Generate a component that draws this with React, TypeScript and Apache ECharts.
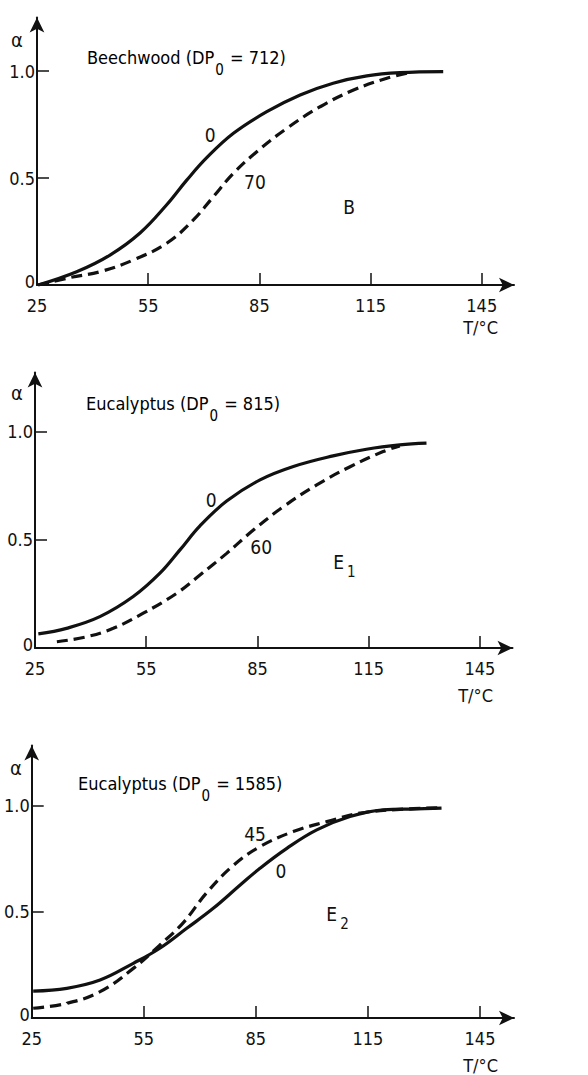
import React, { useEffect, useRef } from "react";
import * as echarts from "echarts";

// ---------- data ----------
// Panel B: Beechwood (DP0 = 712)
const B_0_T = [25.3, 35.7, 44.7, 52.8, 60, 65.4, 70.8, 78, 87, 96, 104.9, 114, 122.9, 134.6];
const B_0_A = [0, 0.062, 0.14, 0.243, 0.375, 0.49, 0.595, 0.709, 0.81, 0.888, 0.943, 0.977, 0.992, 0.997];
const B_70_T = [25.3, 34, 42, 51, 60, 67.2, 72.6, 78, 84.3, 92.4, 101.4, 110.4, 119.4, 125];
const B_70_A = [0, 0.035, 0.062, 0.117, 0.195, 0.304, 0.413, 0.522, 0.623, 0.732, 0.833, 0.911, 0.966, 0.99];

// Panel E1: Eucalyptus (DP0 = 815)
const E1_0_T = [25.9, 33.5, 42.5, 51.5, 58.7, 64.1, 69.5, 76.7, 85.7, 94.7, 105.4, 114.4, 123.4, 130.6];
const E1_0_A = [0.065, 0.091, 0.145, 0.238, 0.346, 0.454, 0.565, 0.68, 0.778, 0.84, 0.889, 0.92, 0.94, 0.948];
const E1_60_T = [30.9, 38.9, 46.1, 54.2, 63.2, 69.5, 76.7, 83.9, 92, 101, 110, 118.9, 123.4];
const E1_60_A = [0.029, 0.052, 0.091, 0.161, 0.253, 0.338, 0.438, 0.546, 0.654, 0.755, 0.839, 0.909, 0.935];

// Panel E2: Eucalyptus (DP0 = 1585)
const E2_0_T = [25.4, 34.4, 43.3, 52.2, 59.3, 66.5, 73.6, 80.8, 86.1, 93.3, 101.3, 110.2, 119.1, 128, 134.7];
const E2_0_A = [0.127, 0.14, 0.179, 0.258, 0.329, 0.423, 0.517, 0.627, 0.706, 0.8, 0.887, 0.95, 0.981, 0.986, 0.99];
const E2_45_T = [25.4, 34.4, 43.3, 52.2, 59.3, 65.6, 71.8, 79, 86.1, 95, 104, 112.9, 123.6, 134.7];
const E2_45_A = [0.046, 0.069, 0.124, 0.234, 0.344, 0.45, 0.59, 0.72, 0.808, 0.879, 0.926, 0.966, 0.984, 0.992];

// axis ticks
const X_TICKS = [25, 55, 85, 115, 145];
const Y_TICKS = [0, 0.5, 1];

// titles
const TITLE_MAIN = ["Beechwood (DP", "Eucalyptus (DP", "Eucalyptus (DP"];
const TITLE_SUB = ["0", "0", "0"];
const TITLE_REST = [" = 712)", " = 815)", " = 1585)"];

// curve annotations (text, T, alpha)
const NOTE_1_TEXT = ["0", "70", "{m|B}"];
const NOTE_1_T = [71.7, 83.8, 109.2];
const NOTE_1_A = [0.7, 0.48, 0.364];
const NOTE_2_TEXT = ["0", "60", "{m|E}{s|1}"];
const NOTE_2_T = [72.5, 86, 108.6];
const NOTE_2_A = [0.685, 0.468, 0.398];
const NOTE_3_TEXT = ["45", "0", "{m|E}{s|2}"];
const NOTE_3_T = [84.8, 91.7, 107];
const NOTE_3_A = [0.87, 0.693, 0.49];

// ---------- layout ----------
const FONT = '"DejaVu Sans Condensed", "Liberation Sans Narrow", "DejaVu Sans", sans-serif';
const INK = "#111";
const GRIDS = [
  { left: 37, top: 17.5, width: 477, height: 267.5 },
  { left: 35, top: 372.5, width: 477.5, height: 275.5 },
  { left: 31.7, top: 745.5, width: 482.3, height: 272.5 },
];
const X_MAX = [153.7, 153.8, 154.1];
const Y_MAX = [1.25, 1.275, 1.285];
const TITLE_POS = [
  [87, 57],
  [86, 403],
  [78, 783],
];
const ALPHA_POS = [
  [17, 40],
  [17, 393],
  [16, 768],
];
const UNIT_POS = [
  [498, 327],
  [493, 695],
  [498, 1065],
];

const pairs = (t: number[], a: number[]) => t.map((v, i) => [v, a[i]]);

const titleRich = {
  m: { fontSize: 18, fontFamily: FONT, color: INK, lineHeight: 20 },
  s: { fontSize: 15, fontFamily: FONT, color: INK, lineHeight: 15, padding: [26, 1, 0, 1] },
};
const noteRich = {
  m: { fontSize: 19, fontFamily: FONT, color: INK, lineHeight: 20 },
  s: { fontSize: 15, fontFamily: FONT, color: INK, lineHeight: 15, padding: [20, 1, 0, 3] },
};

export default function App() {
  const ref = useRef<HTMLDivElement>(null);
  useEffect(() => {
    if (!ref.current) return;
    const chart = echarts.init(ref.current, undefined, { renderer: "svg" });

    const curves = [
      [pairs(B_0_T, B_0_A), pairs(B_70_T, B_70_A)],
      [pairs(E1_0_T, E1_0_A), pairs(E1_60_T, E1_60_A)],
      [pairs(E2_0_T, E2_0_A), pairs(E2_45_T, E2_45_A)],
    ];
    const notes = [
      [NOTE_1_TEXT, NOTE_1_T, NOTE_1_A],
      [NOTE_2_TEXT, NOTE_2_T, NOTE_2_A],
      [NOTE_3_TEXT, NOTE_3_T, NOTE_3_A],
    ] as [string[], number[], number[]][];

    const series: any[] = [];
    curves.forEach((pair, i) => {
      pair.forEach((data, k) => {
        series.push({
          type: "line",
          xAxisIndex: i,
          yAxisIndex: i,
          data,
          smooth: 0.4,
          showSymbol: false,
          silent: true,
          lineStyle: {
            color: INK,
            width: 3.2,
            type: k === 0 ? "solid" : [11, 6],
            cap: "butt",
          },
        });
      });
      const [txt, tt, aa] = notes[i];
      series.push({
        type: "scatter",
        xAxisIndex: i,
        yAxisIndex: i,
        symbolSize: 1,
        itemStyle: { color: "rgba(0,0,0,0)", opacity: 1 },
        silent: true,
        data: tt.map((t, j) => ({ value: [t, aa[j]], name: txt[j] })),
        label: {
          show: true,
          position: "inside",
          formatter: (p: any) => p.name,
          fontSize: 19,
          fontFamily: FONT,
          color: INK,
          opacity: 1,
          rich: noteRich,
        },
      });
    });

    const graphic: any[] = [];
    for (let i = 0; i < 3; i++) {
      graphic.push({
        type: "text",
        x: TITLE_POS[i][0],
        y: TITLE_POS[i][1],
        style: {
          text: `{m|${TITLE_MAIN[i]}}{s|${TITLE_SUB[i]}}{m|${TITLE_REST[i]}}`,
          rich: titleRich,
          align: "left",
          verticalAlign: "middle",
        },
      });
      graphic.push({
        type: "text",
        x: ALPHA_POS[i][0],
        y: ALPHA_POS[i][1],
        style: {
          text: "α",
          fontSize: 20,
          fontFamily: FONT,
          fill: INK,
          align: "center",
          verticalAlign: "middle",
        },
      });
      graphic.push({
        type: "text",
        x: UNIT_POS[i][0],
        y: UNIT_POS[i][1],
        style: {
          text: "T/°C",
          fontSize: 18,
          fontFamily: FONT,
          fill: INK,
          align: "right",
          verticalAlign: "middle",
        },
      });
    }

    chart.setOption({
      animation: false,
      backgroundColor: "#fff",
      grid: GRIDS.map((g) => ({ ...g, containLabel: false })),
      xAxis: GRIDS.map((_, i) => ({
        type: "value",
        gridIndex: i,
        min: 25,
        max: X_MAX[i],
        splitLine: { show: false },
        axisLine: {
          show: true,
          lineStyle: { color: INK, width: 2 },
          symbol: ["none", "arrow"],
          symbolSize: [11, 15],
        },
        axisTick: {
          show: true,
          inside: true,
          length: 12,
          lineStyle: { color: INK, width: 1.5 },
          customValues: X_TICKS,
        },
        axisLabel: {
          customValues: X_TICKS,
          fontSize: 18,
          fontFamily: FONT,
          color: INK,
          margin: 11,
        },
      })),
      yAxis: GRIDS.map((_, i) => ({
        type: "value",
        gridIndex: i,
        min: 0,
        max: Y_MAX[i],
        splitLine: { show: false },
        axisLine: {
          show: true,
          lineStyle: { color: INK, width: 2 },
          symbol: ["none", "arrow"],
          symbolSize: [11, 15],
        },
        axisTick: {
          show: true,
          inside: true,
          length: 12,
          lineStyle: { color: INK, width: 1.5 },
          customValues: Y_TICKS,
        },
        axisLabel: {
          customValues: Y_TICKS,
          formatter: (v: number) => (v === 1 ? "1.0" : v === 0 ? "{z|0}" : String(v)),
          fontSize: 18,
          fontFamily: FONT,
          color: INK,
          margin: 2,
          rich: {
            z: { fontSize: 18, fontFamily: FONT, color: INK, lineHeight: 16, padding: [0, 0, 8, 0] },
          },
        },
      })),
      series,
      graphic,
    });
    return () => chart.dispose();
  }, []);
  return (
    <div
      ref={ref}
      style={{ position: "absolute", left: 0, top: 0, width: 588, height: 1075, background: "#fff" }}
    />
  );
}
